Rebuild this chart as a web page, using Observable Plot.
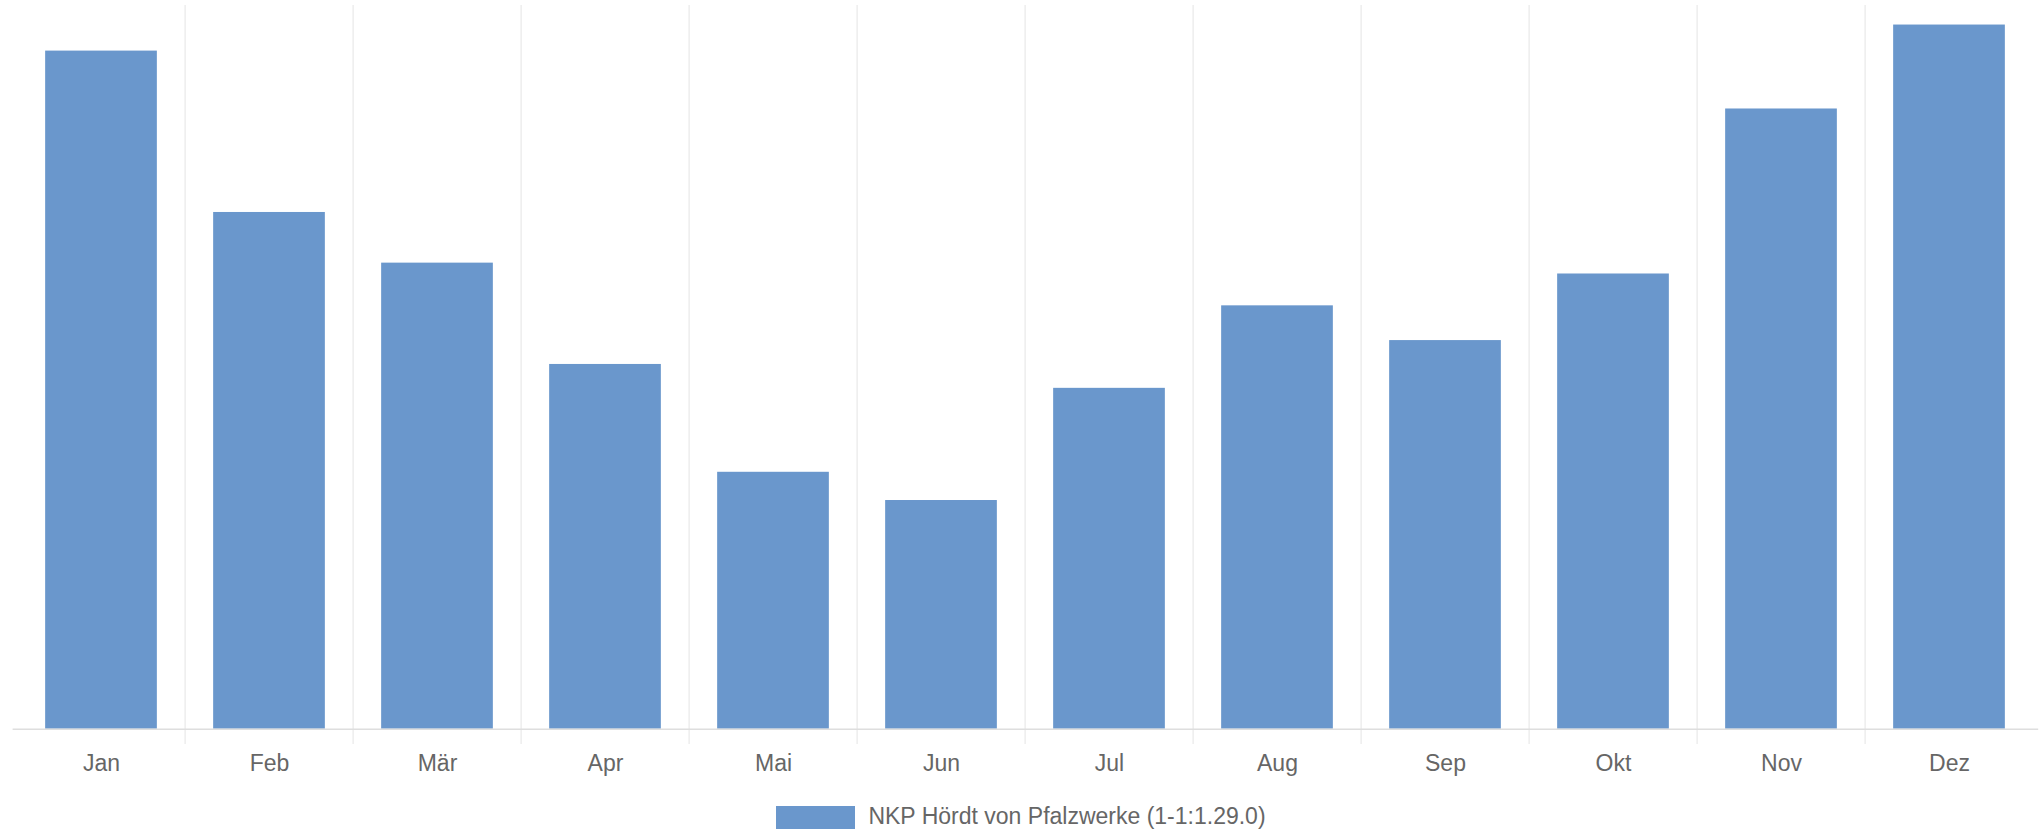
<!DOCTYPE html>
<html>
<head>
<meta charset="utf-8">
<script src="https://cdn.jsdelivr.net/npm/d3@7"></script>
<script src="https://cdn.jsdelivr.net/npm/@observablehq/plot@0.6"></script>
<style>
  html, body { margin: 0; padding: 0; background: #fff; overflow: hidden; }
  #chart svg { display: block; }
  #legend {
    display: flex; justify-content: center; align-items: flex-start;
    font-family: "Liberation Sans", Arial, sans-serif; font-size: 23px; color: #666;
    height: 24px; line-height: 22px;
  }
  #legend .sw { width: 79px; height: 24px; background: #6a97cc; margin-top: 1px; margin-right: 13px; }
</style>
</head>
<body>
<div id="chart"></div>
<div id="legend"><div class="sw"></div><div class="lbl"></div></div>
<script>
const months = ["Jan", "Feb", "Mär", "Apr", "Mai", "Jun", "Jul", "Aug", "Sep", "Okt", "Nov", "Dez"];
const values = [937, 714, 644, 504, 355, 316, 471, 585, 537, 629, 857, 973];
const seriesName = "NKP Hördt von Pfalzwerke (1-1:1.29.0)";

const data = months.map((m, i) => ({month: m, value: values[i]}));

const W = 2042, H = 805, mL = 12.6, mR = 3.8, mT = 5, mB = 76.3;
const step = (W - mL - mR) / months.length;
const barInset = (step - 112.5) / 2;

const chart = Plot.plot({
  width: W,
  height: H,
  marginLeft: mL,
  marginRight: mR,
  marginTop: mT,
  marginBottom: mB,
  style: {fontFamily: "'Liberation Sans', Arial, sans-serif", background: "#fff"},
  x: {type: "band", domain: months, padding: 0, label: null},
  y: {domain: [0, 1000], axis: null},
  marks: [
    Plot.ruleX(months.slice(1), {x: d => d, dx: -step / 2, stroke: "#e4e4e4", strokeWidth: 1, insetBottom: -15.3}),
    Plot.barY(data, {x: "month", y: "value", fill: "#6a97cc", insetLeft: barInset, insetRight: barInset}),
    Plot.ruleY([0], {stroke: "#dedede", strokeWidth: 1.5}),
    Plot.axisX({tickSize: 0, tickPadding: 25, fontSize: 23, fill: "#666", label: null})
  ]
});
document.getElementById("chart").appendChild(chart);
document.querySelector("#legend .lbl").textContent = seriesName;
</script>
</body>
</html>
